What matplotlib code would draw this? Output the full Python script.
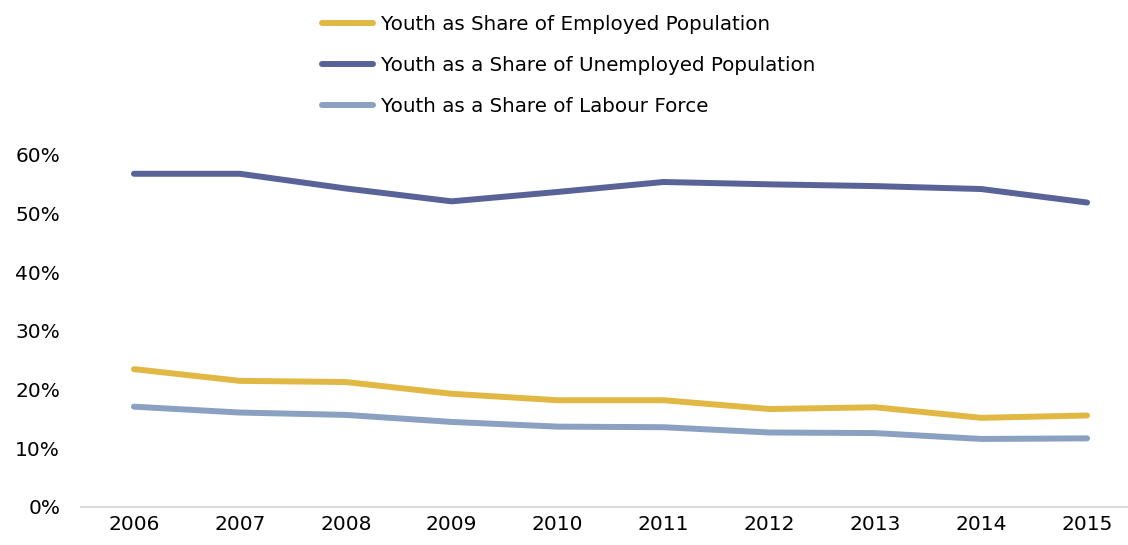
import matplotlib
matplotlib.use("Agg")
import matplotlib.pyplot as plt
from matplotlib.ticker import PercentFormatter

years = ["2006", "2007", "2008", "2009", "2010", "2011", "2012", "2013", "2014", "2015"]
employed = [23.5, 21.5, 21.3, 19.3, 18.2, 18.2, 16.7, 17.0, 15.2, 15.6]
unemployed = [56.8, 56.8, 54.3, 52.1, 53.7, 55.4, 55.0, 54.7, 54.2, 51.9]
labour = [17.1, 16.1, 15.7, 14.5, 13.7, 13.6, 12.7, 12.6, 11.6, 11.7]

labels = ["Youth as Share of Employed Population",
          "Youth as a Share of Unemployed Population",
          "Youth as a Share of Labour Force"]
colors = ["#E2B844", "#5A6397", "#8BA1C2"]

W, H = 1128, 545
fig = plt.figure(figsize=(W / 100, H / 100), dpi=100)
left, right, bottom, top = 81, 1140, 507, 155
ax = fig.add_axes([left / W, 1 - bottom / H, (right - left) / W, (bottom - top) / H])

x = list(range(len(years)))
handles = []
for vals, lab, c in zip([employed, unemployed, labour], labels, colors):
    h, = ax.plot(x, vals, color=c, lw=4.3, solid_capstyle="round", solid_joinstyle="round", label=lab)
    handles.append(h)

ax.set_xlim(-0.5, len(years) - 0.5)
ax.set_ylim(0, 60)
ax.set_yticks([0, 10, 20, 30, 40, 50, 60])
ax.yaxis.set_major_formatter(PercentFormatter(decimals=0))
ax.set_xticks(x)
ax.set_xticklabels(years)
for s in ["top", "right", "left"]:
    ax.spines[s].set_visible(False)
ax.spines["bottom"].set_color("#D9D9D9")
ax.spines["bottom"].set_linewidth(1.5)
ax.tick_params(axis="both", length=0, labelsize=14.5, colors="#000000")
ax.tick_params(axis="y", pad=15)
ax.tick_params(axis="x", pad=6)

leg = fig.legend(handles=handles, loc="upper left", bbox_to_anchor=(314 / W, 1 - 7 / H),
                 frameon=False, fontsize=14.3, handlelength=2.55, handletextpad=0.4,
                 labelspacing=1.12, borderaxespad=0)
fig.savefig("out.png", dpi=100)
